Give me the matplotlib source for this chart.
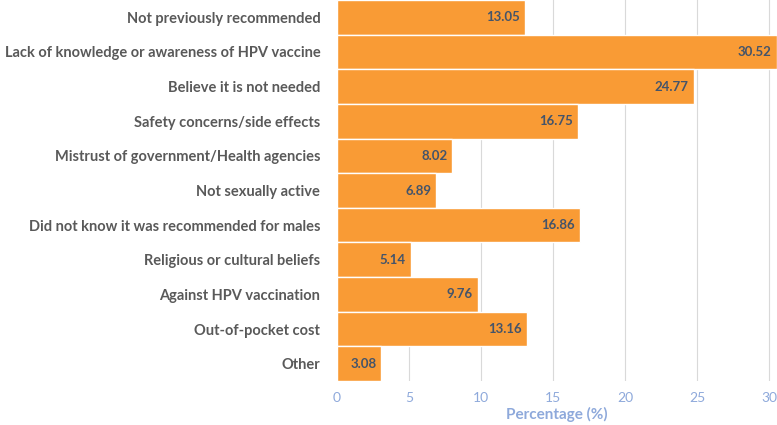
import matplotlib
matplotlib.use("Agg")
import matplotlib.pyplot as plt

# reasons for not getting the HPV vaccine
reasons = ['Not previously recommended',
           'Lack of knowledge or awareness of HPV vaccine',
           'Believe it is not needed',
           'Safety concerns/side effects',
           'Mistrust of government/Health agencies',
           'Not sexually active',
           'Did not know it was recommended for males',
           'Religious or cultural beliefs',
           'Against HPV vaccination',
           'Out-of-pocket cost',
           'Other']
percent = [13.05, 30.52, 24.77, 16.75, 8.02, 6.89, 16.86, 5.14, 9.76, 13.16, 3.08]
xticks = [0, 5, 10, 15, 20, 25, 30]

plt.rcParams['font.family'] = ['Lato', 'DejaVu Sans']

fig = plt.figure(figsize=(7.77, 4.25), dpi=100)
ax = fig.add_axes([0.4337, 0.1035, 0.5663, 0.8965])

ypos = list(range(len(reasons)))
bars = ax.barh(ypos, percent, height=1.0, color='#F99B35', edgecolor='white', linewidth=1, zorder=3)
ax.set_ylim(len(reasons) - 0.5, -0.5)
ax.set_xlim(0, 30.55)

ax.set_yticks(ypos)
ax.set_yticklabels(reasons, fontsize=10.5, fontweight='bold', color='#595959')
ax.set_xticks(xticks)
ax.set_xticklabels([str(t) for t in xticks], fontsize=10, color='#8EA9DB')
ax.tick_params(axis='both', length=0)
ax.tick_params(axis='y', pad=12)
ax.tick_params(axis='x', pad=8)

ax.set_xlabel('Percentage (%)', fontsize=11, fontweight='bold', color='#8EA9DB', labelpad=2)

ax.grid(axis='x', color='#D9D9D9', linewidth=0.8, zorder=0)
for s in ax.spines.values():
    s.set_visible(False)

for b, v in zip(bars, percent):
    ax.text(v - 0.35, b.get_y() + b.get_height() / 2, f'{v:.2f}', ha='right', va='center',
            fontsize=9.5, fontweight='bold', color='#44546A', zorder=4)

fig.savefig('out.png', dpi=100)
